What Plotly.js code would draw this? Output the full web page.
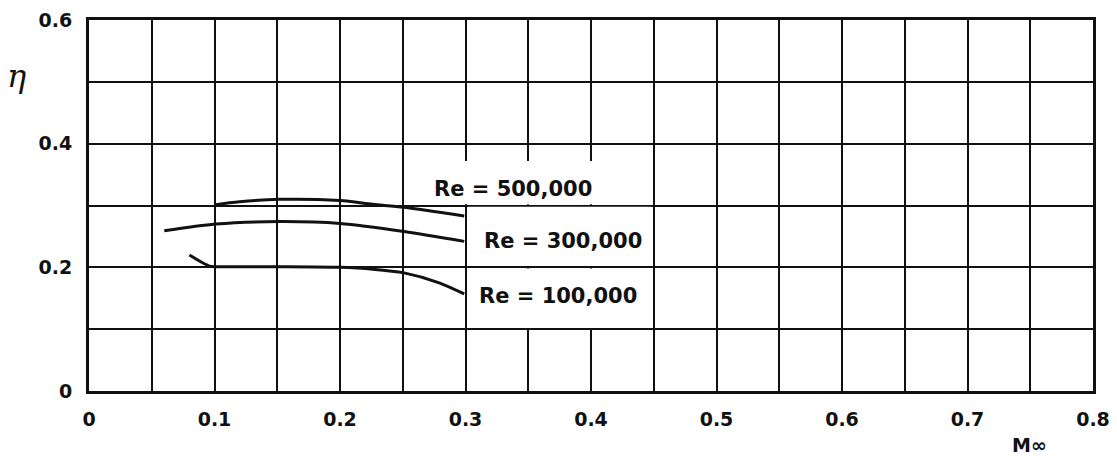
<!DOCTYPE html>
<html>
<head>
<meta charset="utf-8">
<script src="https://cdn.plot.ly/plotly-3.0.1.min.js"></script>
<style>html,body{margin:0;padding:0;background:#fff;}#chart{width:1117px;height:459px;}</style>
</head>
<body>
<div id="chart"></div>
<script>
// Data
const mach500 = [0.10, 0.120, 0.152, 0.200, 0.226, 0.251, 0.299];
const eta500  = [0.301, 0.306, 0.310, 0.308, 0.302, 0.297, 0.283];
const mach300 = [0.060, 0.101, 0.152, 0.200, 0.251, 0.299];
const eta300  = [0.259, 0.270, 0.274, 0.271, 0.258, 0.242];
const mach100 = [0.080, 0.096, 0.101, 0.152, 0.200, 0.226, 0.251, 0.279, 0.299];
const eta100  = [0.220, 0.202, 0.201, 0.201, 0.200, 0.197, 0.191, 0.175, 0.157];
const seriesLabels = ['Re = 500,000', 'Re = 300,000', 'Re = 100,000'];
const xTickVals = [0, 0.1, 0.2, 0.3, 0.4, 0.5, 0.6, 0.7, 0.8];
const xTickText = ['0', '0.1', '0.2', '0.3', '0.4', '0.5', '0.6', '0.7', '0.8'];
const yTickVals = [0, 0.2, 0.4, 0.6];
const yTickText = ['0', '0.2', '0.4', '0.6'];

const lineStyle = {color: '#111', width: 3, shape: 'spline', smoothing: 0.8};
const traces = [
  {x: mach500, y: eta500, mode: 'lines', line: lineStyle, name: seriesLabels[0], hoverinfo: 'skip'},
  {x: mach300, y: eta300, mode: 'lines', line: lineStyle, name: seriesLabels[1], hoverinfo: 'skip'},
  {x: mach100, y: eta100, mode: 'lines', line: lineStyle, name: seriesLabels[2], hoverinfo: 'skip'}
];

const tickFont = {family: 'DejaVu Sans', size: 19, color: '#111', weight: 'bold'};
const labelFont = {family: 'DejaVu Sans', size: 21, color: '#111', weight: 'bold'};

const whiteBox = (x0, x1, y0, y1) => ({type: 'rect', xref: 'x', yref: 'y', x0, x1, y0, y1,
  fillcolor: '#fff', line: {width: 0}, layer: 'between'});

const pw = 1117 - 89 - 24, ph = 459 - 20 - 68;
const layout = {
  width: 1117, height: 459,
  margin: {l: 89, r: 24, t: 20, b: 68},
  paper_bgcolor: '#fff', plot_bgcolor: '#fff',
  showlegend: false,
  xaxis: {
    range: [0, 0.8], tickvals: xTickVals, ticktext: xTickText,
    showgrid: true, gridcolor: '#111', gridwidth: 2,
    minor: {dtick: 0.05, showgrid: true, gridcolor: '#111', gridwidth: 2},
    showline: true, linecolor: '#111', linewidth: 3, mirror: true,
    ticks: '', ticklabelstandoff: 9, tickfont: tickFont, zeroline: false, fixedrange: true
  },
  yaxis: {
    range: [0, 0.6], tickvals: yTickVals, ticktext: yTickText,
    showgrid: true, gridcolor: '#111', gridwidth: 2,
    minor: {dtick: 0.1, showgrid: true, gridcolor: '#111', gridwidth: 2},
    showline: true, linecolor: '#111', linewidth: 3, mirror: true,
    ticks: '', ticklabelstandoff: 10, tickfont: tickFont, zeroline: false, fixedrange: true
  },
  shapes: [
    whiteBox(0.262, 0.444, 0.302, 0.372),
    whiteBox(0.302, 0.448, 0.202, 0.298),
    whiteBox(0.302, 0.448, 0.102, 0.198)
  ],
  annotations: [
    {x: 0.273, y: 0.326, xref: 'x', yref: 'y', text: seriesLabels[0], showarrow: false, xanchor: 'left', yanchor: 'middle', font: labelFont},
    {x: 0.313, y: 0.242, xref: 'x', yref: 'y', text: seriesLabels[1], showarrow: false, xanchor: 'left', yanchor: 'middle', font: labelFont},
    {x: 0.309, y: 0.153, xref: 'x', yref: 'y', text: seriesLabels[2], showarrow: false, xanchor: 'left', yanchor: 'middle', font: labelFont},
    {x: (5 - 89) / pw, y: (391 - 55) / ph, xref: 'paper', yref: 'paper', text: 'η', showarrow: false,
     font: {family: 'DejaVu Serif', size: 32, color: '#111', style: 'italic'}},
    {x: (1010 - 89) / pw, y: (391 - 445) / ph, xref: 'paper', yref: 'paper', text: 'M∞', showarrow: false,
     xanchor: 'left', yanchor: 'middle', font: {family: 'DejaVu Sans', size: 19, color: '#111', weight: 'bold'}}
  ]
};

Plotly.newPlot('chart', traces, layout, {staticPlot: true, displayModeBar: false});
</script>
</body>
</html>
